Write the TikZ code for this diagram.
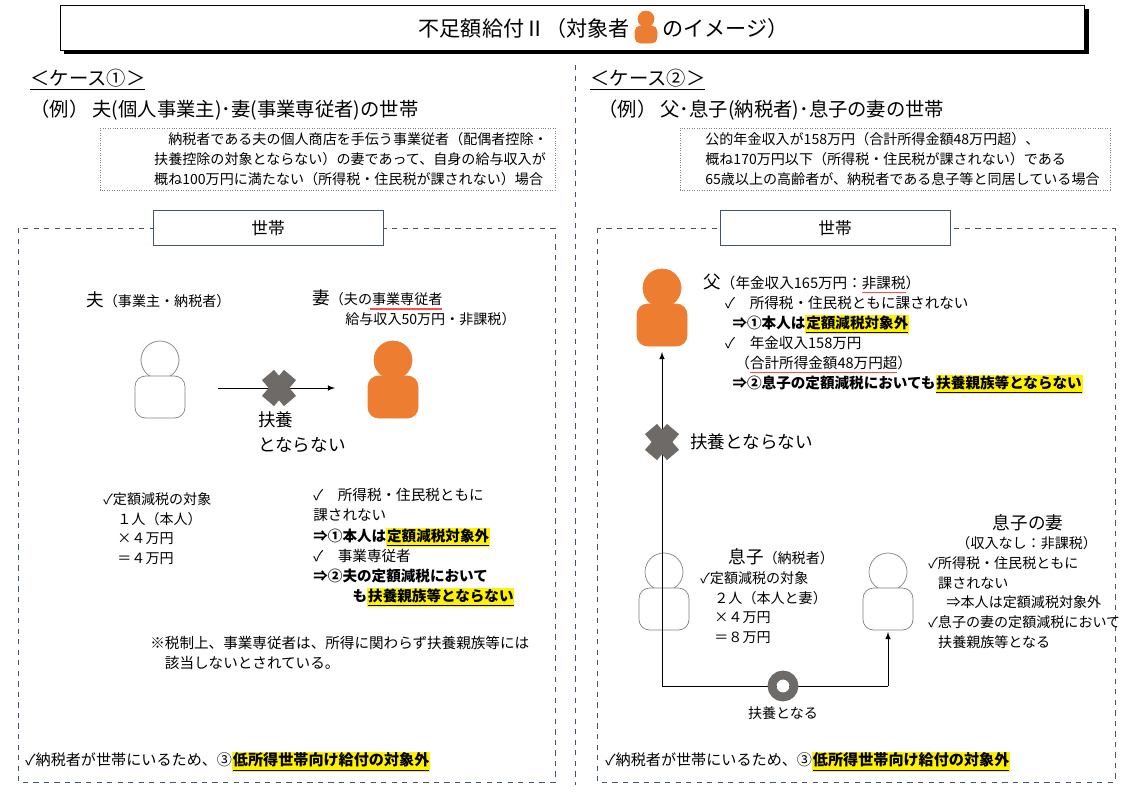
\documentclass[tikz,border=0pt]{standalone}
\usepackage{fontspec}
\setmainfont{Noto Sans CJK JP}
\usetikzlibrary{positioning}
\definecolor{myorange}{RGB}{237,125,49}
\definecolor{myframe}{RGB}{68,84,106}
\definecolor{mygray}{RGB}{110,106,104}
\newcommand{\hl}[1]{{\setlength\fboxsep{0.5pt}\colorbox{yellow}{\underline{#1}}}}
\newsavebox{\rulbox}
\newcommand{\rul}[1]{\sbox{\rulbox}{#1}\rlap{\color{red!70}\rule[-2.5pt]{\wd\rulbox}{0.5pt}}\usebox{\rulbox}}
\newcommand{\person}[3]{%
  \filldraw[#3] (#1,#2) circle (19);
  \filldraw[#3,rounded corners=6] (#1-25,#2+58) rectangle (#1+25,#2+16);}
\begin{document}
\begin{tikzpicture}[x=0.02cm,y=-0.02cm]
    \tikzstyle{txt}=[anchor=west,inner sep=0pt,align=left,font=\fontsize{8.6}{12}\selectfont]
    \tikzstyle{small}=[inner sep=0pt,align=left,font=\fontsize{8}{11.3}\selectfont]
    \tikzstyle{big}=[anchor=west,inner sep=0pt,font=\fontsize{11}{12}\selectfont]
    \tikzstyle{hh}=[draw=myframe,fill=white,minimum width=4.6cm,minimum height=0.7cm,font=\fontsize{9.5}{10}\selectfont]
    \useasboundingbox (0,0) rectangle (1144,792);

    % title
    \fill[black] (64,9) rectangle (1089,54);
    \filldraw[fill=white,draw=black] (60,5) rectangle (1084,50);
    \node[inner sep=0pt,anchor=east,font=\fontsize{12}{12}\selectfont] (title) at (630,28)
        {不足額給付Ⅱ（対象者};
    \node[inner sep=0pt,anchor=west,font=\fontsize{12}{12}\selectfont] (title2) at (662,28)
        {のイメージ）};
    \filldraw[myorange] (646,19) circle (8);
    \filldraw[myorange,rounded corners=3] (635,43) rectangle (657,26);

    \draw[dashed,myframe] (575,65) -- (575,785);

    % case 1
    \node[big] (c1) at (30,80) {\underline{＜ケース①＞}};
    \node[big] (ex1) at (30,110) {（例） 夫(個人事業主)･妻(事業専従者)の世帯};
    \draw[densely dotted,gray] (100,128) rectangle (555,190);
    \node[small,anchor=east] (d1) at (548,159) {\hspace{1em}納税者である夫の個人商店を手伝う事業従者（配偶者控除・\\扶養控除の対象とならない）の妻であって、自身の給与収入が\\概ね100万円に満たない（所得税・住民税が課されない）場合};
    \draw[dashed,myframe] (18,228) rectangle (555,782);
    \node[hh] (s1) at (268,228) {世帯};

    \person{160}{360}{draw=gray,fill=white}
    \person{393}{360}{myorange}
    \node[txt,font=\fontsize{10}{12}\selectfont] (husb) at (86,300) {夫{\fontsize{8}{10}\selectfont（事業主・納税者）}};
    \node[txt,font=\fontsize{10}{12}\selectfont] (wife) at (312,298) {妻{\fontsize{8}{10}\selectfont（夫の事業専従者}};
    \draw[red!70,line width=0.8pt] (370,309) -- (442,309);
    \node[small,anchor=west] (wife2) at (345,319) {給与収入50万円・非課税）};
    \coordinate (a1) at (218,388);
    \coordinate (a2) at (335,388);
    \draw[-latex] (a1) -- (a2);
    \draw[mygray,line width=9pt] (268,375) -- (290,401) (290,375) -- (268,401);
    \node[txt,font=\fontsize{10}{14}\selectfont] (nf1) at (258,432) {扶養\\とならない};

    \node[small,anchor=north west] (t1) at (103,492) {✓定額減税の対象\\\hspace{1em}１人（本人）\\\hspace{1em}×４万円\\\hspace{1em}＝４万円};
    \node[small,anchor=north west,font=\fontsize{8.3}{11.5}\selectfont] (t2) at (313,488) {✓\quad 所得税・住民税ともに\\課されない\\\textbf{⇒①本人は\hl{定額減税対象外}}\\✓\quad 事業専従者\\\textbf{⇒②夫の定額減税において}\\\hspace{2.7em}\textbf{も\hl{扶養親族等とならない}}};
    \node[small,anchor=north west,font=\fontsize{8.3}{11.5}\selectfont] (t3) at (150,636) {※税制上、事業専従者は、所得に関わらず扶養親族等には\\\hspace{1em}該当しないとされている。};
    \node[txt] (b1) at (25,762) {✓納税者が世帯にいるため、③\textbf{\hl{低所得世帯向け給付の対象外}}};

    % case 2
    \node[big] (c2) at (590,80) {\underline{＜ケース②＞}};
    \node[big] (ex2) at (598,110) {（例） 父･息子(納税者)･息子の妻の世帯};
    \draw[densely dotted,gray] (680,128) rectangle (1110,190);
    \node[small,anchor=west] (d2) at (705,159) {公的年金収入が158万円（合計所得金額48万円超）、\\概ね170万円以下（所得税・住民税が課されない）である\\65歳以上の高齢者が、納税者である息子等と同居している場合};
    \draw[dashed,myframe] (597,228) rectangle (1115,782);
    \node[hh] (s2) at (835,228) {世帯};

    \person{662}{288}{myorange}
    \person{664}{572}{draw=gray,fill=white}
    \person{888}{572}{draw=gray,fill=white}
    \node[small,anchor=north west,font=\fontsize{8.3}{11.3}\selectfont] (fa) at (703,274)
        {{\fontsize{10}{10}\selectfont 父}（年金収入165万円：\rul{非課税}）\\
         \hspace{1.5em}✓\quad 所得税・住民税ともに課されない\\
         \hspace{2em}\textbf{⇒①本人は\hl{定額減税対象外}}\\
         \hspace{1.5em}✓\quad 年金収入158万円\\
         \hspace{2.2em}（\rul{合計所得金額48万円超}）\\
         \hspace{2em}\textbf{⇒②息子の定額減税においても\hl{扶養親族等とならない}}};
    \coordinate (up) at (662,352);
    \coordinate (lo) at (662,686);
    \coordinate (ro) at (888,686);
    \coordinate (rw) at (888,632);
    \draw[-latex] (lo) -- (up);
    \draw (lo) -- (ro);
    \draw[-latex] (ro) -- (rw);
    \draw[mygray,line width=9pt] (651,429) -- (673,455) (673,429) -- (651,455);
    \node[txt,font=\fontsize{10}{12}\selectfont] (nf2) at (690,442) {扶養とならない};
    \draw[mygray,line width=5pt] (783,686) circle (11);
    \fill[white] (777,684) rectangle (789,688);
    \node[small,anchor=center] (yo) at (783,713) {扶養となる};

    \node[small,anchor=north west] (son) at (700,548) {\hspace{2em}{\fontsize{10}{10}\selectfont 息子}（納税者）\\✓定額減税の対象\\\hspace{1em}２人（本人と妻）\\\hspace{1em}×４万円\\\hspace{1em}＝８万円};
    \node[small,anchor=center,font=\fontsize{10}{10}\selectfont] (wt) at (1028,523) {息子の妻};
    \node[small,anchor=north west] (wi) at (928,536) {\hspace{2em}（収入なし：非課税）\\✓所得税・住民税ともに\\\hspace{0.7em}課されない\\\hspace{1.3em}⇒本人は定額減税対象外\\✓息子の妻の定額減税において\\\hspace{0.7em}扶養親族等となる};
    \node[txt] (b2) at (605,762) {✓納税者が世帯にいるため、③\textbf{\hl{低所得世帯向け給付の対象外}}};
\end{tikzpicture}
\end{document}
